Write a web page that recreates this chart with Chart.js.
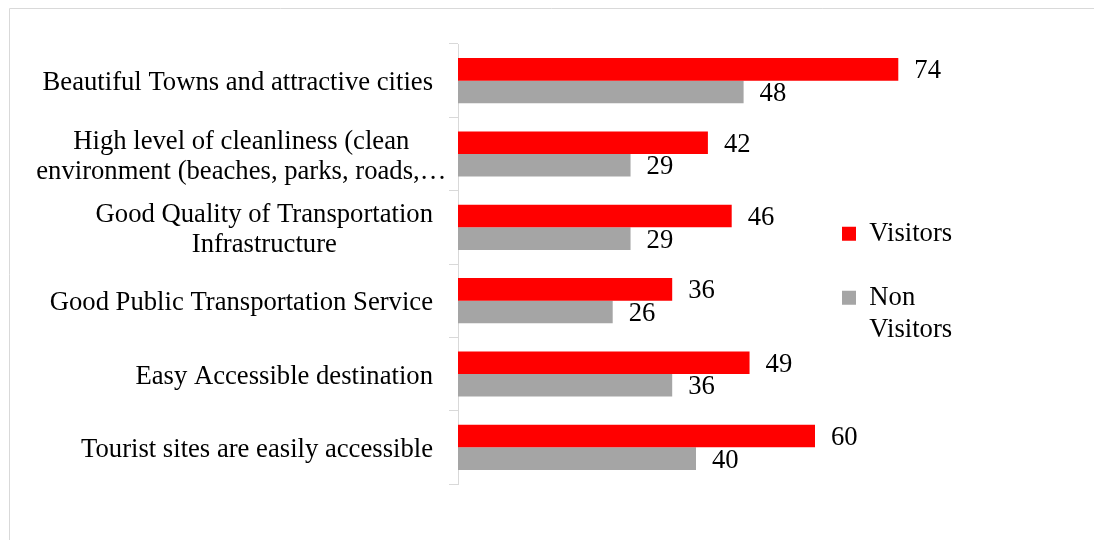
<!DOCTYPE html>
<html>
<head>
<meta charset="utf-8">
<script src="https://cdn.jsdelivr.net/npm/chart.js@4.4.0/dist/chart.umd.min.js"></script>
<style>
  html, body { margin: 0; padding: 0; background: #ffffff; }
  #wrap { width: 1094px; height: 540px; position: relative; }
</style>
</head>
<body>
<div id="wrap"><canvas id="c" width="1094" height="540"></canvas></div>
<script>
// ---- data ----
const categories = [
  ['Beautiful Towns and attractive cities'],
  ['High level of cleanliness (clean', 'environment (beaches, parks, roads,…'],
  ['Good Quality of Transportation', 'Infrastructure'],
  ['Good Public Transportation Service'],
  ['Easy Accessible destination'],
  ['Tourist sites are easily accessible']
];
const visitors = [74, 42, 46, 36, 49, 60];
const nonVisitors = [48, 29, 29, 26, 36, 40];
const seriesNames = ['Visitors', 'Non Visitors'];

// ---- styling ----
const FONT_FAMILY = "'Liberation Serif', 'Times New Roman', serif";
const FONT_SIZE = 26.67;
const TEXT_COLOR = '#000000';
const AXIS_COLOR = '#d9d9d9';
const TICK_LEN = 9;
const LABEL_PAD = 16;
const LABEL_LINE = 30;
const CAP_HALF = 9;
const LEGEND_X = 842;
const LEGEND_Y = 220.5;

Chart.defaults.font.family = FONT_FAMILY;

const framePlugin = {
  id: 'frame',
  beforeDraw(chart) {
    const ctx = chart.ctx;
    ctx.save();
    ctx.strokeStyle = AXIS_COLOR;
    ctx.lineWidth = 1;
    ctx.beginPath();
    ctx.moveTo(9.5, chart.height);
    ctx.lineTo(9.5, 8.5);
    ctx.lineTo(chart.width, 8.5);
    ctx.stroke();
    ctx.restore();
  }
};

const legendPlace = {
  id: 'legendPlace',
  afterLayout(chart) {
    const lg = chart.legend;
    if (!lg) return;
    const p = lg.options.labels.padding;
    const w = lg.width;
    lg.left = LEGEND_X - p;
    lg.top = LEGEND_Y - p;
    lg.right = lg.left + w;
    lg.bottom = chart.height;
    lg.height = lg.bottom - lg.top;
  }
};

const categoryLabels = {
  id: 'categoryLabels',
  afterDraw(chart) {
    const ctx = chart.ctx;
    const y = chart.scales.y;
    ctx.save();
    ctx.font = FONT_SIZE + 'px ' + FONT_FAMILY;
    ctx.fillStyle = TEXT_COLOR;
    ctx.textAlign = 'center';
    ctx.textBaseline = 'alphabetic';
    const right = y.right - TICK_LEN - LABEL_PAD;
    categories.forEach((lines, i) => {
      const cy = y.getPixelForValue(i) + 0.5;
      const widths = lines.map(l => ctx.measureText(l.replace(/…$/, '')).width);
      const blockW = Math.max(...widths);
      const cx = right - blockW / 2;
      const n = lines.length;
      lines.forEach((l, j) => {
        ctx.fillText(l, cx, cy + (j - (n - 1) / 2) * LABEL_LINE + CAP_HALF);
      });
    });
    ctx.restore();
  }
};

const valueLabels = {
  id: 'valueLabels',
  afterDatasetsDraw(chart) {
    const ctx = chart.ctx;
    ctx.save();
    ctx.font = FONT_SIZE + 'px ' + FONT_FAMILY;
    ctx.fillStyle = TEXT_COLOR;
    ctx.textAlign = 'left';
    ctx.textBaseline = 'alphabetic';
    chart.data.datasets.forEach((ds, di) => {
      const meta = chart.getDatasetMeta(di);
      meta.data.forEach((bar, i) => {
        ctx.fillText(String(ds.data[i]), bar.x + 16, bar.y + CAP_HALF);
      });
    });
    ctx.restore();
  }
};

new Chart(document.getElementById('c'), {
  type: 'bar',
  data: {
    labels: categories.map(l => l.join(' ')),
    datasets: [
      { label: seriesNames[0], data: visitors, backgroundColor: '#ff0000', borderWidth: 0 },
      { label: seriesNames[1], data: nonVisitors, backgroundColor: '#a5a5a5', borderWidth: 0 }
    ]
  },
  options: {
    indexAxis: 'y',
    responsive: false,
    animation: false,
    devicePixelRatio: 1,
    categoryPercentage: 0.615,
    barPercentage: 1.0,
    layout: { padding: { left: 0, top: 44, right: 41, bottom: 56 } },
    scales: {
      x: { display: false, min: 0, max: 100 },
      y: {
        display: true,
        grid: { display: true, drawOnChartArea: false, drawTicks: true, tickLength: TICK_LEN, color: AXIS_COLOR, offset: true },
        border: { display: true, color: AXIS_COLOR, width: 1 },
        ticks: { display: false },
        afterFit(scale) { scale.width = 458; }
      }
    },
    plugins: {
      tooltip: { enabled: false },
      legend: {
        display: true,
        position: 'chartArea',
        align: 'start',
        labels: {
          boxWidth: 14,
          boxHeight: 14,
          padding: 37.33,
          color: TEXT_COLOR,
          font: { family: FONT_FAMILY, size: FONT_SIZE },
          generateLabels(chart) {
            const items = Chart.defaults.plugins.legend.labels.generateLabels(chart);
            items.forEach(it => { if (it.text.indexOf(' ') >= 0) it.text = it.text.split(' '); });
            return items;
          }
        }
      }
    }
  },
  plugins: [framePlugin, legendPlace, categoryLabels, valueLabels]
});
</script>
</body>
</html>
